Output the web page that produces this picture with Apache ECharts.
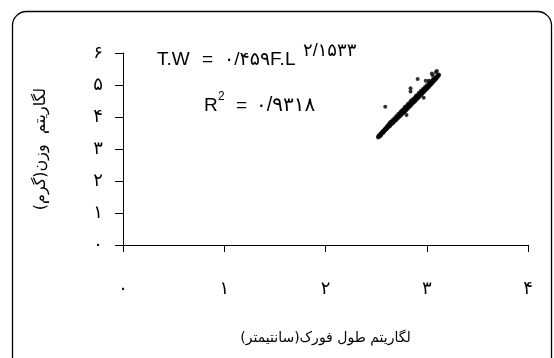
<!DOCTYPE html>
<html>
<head>
<meta charset="utf-8">
<script src="https://cdn.jsdelivr.net/npm/echarts@6/dist/echarts.min.js"></script>
<style>
  html, body { margin: 0; padding: 0; background: #ffffff; }
  #chart { width: 554px; height: 358px; }
</style>
</head>
<body>
<div id="chart"></div>
<script>
// Log fork length (cm) vs log weight (g)
const xTickLabels = ['۰', '۱', '۲', '۳', '۴'];
const yTickLabels = ['۰', '۱', '۲', '۳', '۴', '۵', '۶'];
const xAxisTitle = 'لگاریتم طول فورک(سانتیمتر)';
const yAxisTitle = 'لگاریتم  وزن(گرم)';

// Observations: [log fork length, log weight]
const logLength = [
  2.52, 2.52, 2.53, 2.53, 2.53, 2.54, 2.54, 2.54, 2.55, 2.55, 2.55, 2.56, 2.56,
  2.57, 2.57, 2.57, 2.58, 2.58, 2.59, 2.59, 2.59, 2.60, 2.60, 2.61, 2.61, 2.61,
  2.62, 2.62, 2.63, 2.63, 2.63, 2.64, 2.64, 2.64, 2.65, 2.65, 2.66, 2.66, 2.66,
  2.67, 2.67, 2.68, 2.68, 2.68, 2.69, 2.69, 2.70, 2.70, 2.70, 2.71, 2.71, 2.72,
  2.72, 2.72, 2.73, 2.73, 2.74, 2.74, 2.74, 2.75, 2.75, 2.75, 2.76, 2.76, 2.76,
  2.77, 2.77, 2.78, 2.78, 2.78, 2.79, 2.79, 2.79, 2.80, 2.80, 2.80, 2.81, 2.81,
  2.81, 2.82, 2.82, 2.82, 2.83, 2.83, 2.84, 2.84, 2.84, 2.85, 2.85, 2.85, 2.86,
  2.86, 2.87, 2.87, 2.87, 2.88, 2.88, 2.89, 2.89, 2.89, 2.90, 2.90, 2.90, 2.91,
  2.91, 2.92, 2.92, 2.92, 2.93, 2.93, 2.94, 2.94, 2.94, 2.95, 2.95, 2.96, 2.96,
  2.96, 2.97, 2.97, 2.98, 2.98, 2.98, 2.99, 2.99, 3.00, 3.00, 3.00, 3.01, 3.01,
  3.02, 3.02, 3.02, 3.03, 3.03, 3.04, 3.04, 3.04, 3.05, 3.05, 3.06, 3.06, 3.06,
  3.07, 3.07, 3.08, 3.08, 3.09, 3.09, 3.10, 3.10, 3.11, 3.11, 3.12, 3.12,
  2.59, 2.84, 2.84, 2.91, 2.99, 3.02, 3.05, 3.10, 2.97, 3.06, 3.09
];
const logWeight = [
  3.36, 3.40, 3.38, 3.43, 3.41, 3.42, 3.47, 3.40, 3.45, 3.50, 3.44, 3.49, 3.54,
  3.52, 3.57, 3.50, 3.55, 3.60, 3.58, 3.64, 3.62, 3.61, 3.67, 3.64, 3.70, 3.72,
  3.68, 3.74, 3.70, 3.77, 3.80, 3.73, 3.79, 3.84, 3.77, 3.83, 3.80, 3.86, 3.90,
  3.82, 3.89, 3.86, 3.92, 3.96, 3.89, 3.95, 3.91, 3.98, 4.03, 3.95, 4.02, 3.98,
  4.05, 4.10, 4.01, 4.08, 4.04, 4.11, 4.16, 4.07, 4.14, 4.19, 4.10, 4.17, 4.22,
  4.13, 4.21, 4.16, 4.24, 4.30, 4.19, 4.27, 4.33, 4.22, 4.30, 4.06, 4.26, 4.33,
  4.39, 4.29, 4.36, 4.42, 4.32, 4.40, 4.35, 4.43, 4.49, 4.38, 4.46, 4.52, 4.42,
  4.49, 4.45, 4.53, 4.58, 4.48, 4.56, 4.51, 4.59, 4.65, 4.55, 4.62, 4.68, 4.58,
  4.66, 4.61, 4.69, 4.75, 4.64, 4.72, 4.68, 4.75, 4.81, 4.71, 4.78, 4.74, 4.81,
  4.87, 4.77, 4.85, 4.81, 4.88, 4.93, 4.84, 4.91, 4.87, 4.94, 4.99, 4.91, 4.97,
  4.94, 5.01, 5.06, 4.98, 5.04, 5.01, 5.07, 5.12, 5.04, 5.10, 5.08, 5.13, 5.18,
  5.11, 5.17, 5.15, 5.20, 5.18, 5.23, 5.22, 5.27, 5.26, 5.30, 5.30, 5.33,
  4.32, 4.90, 4.80, 5.19, 5.13, 5.13, 5.36, 5.44, 4.60, 5.30, 5.40
];

const points = logLength.map((x, i) => [x, logWeight[i]]);

const persianFont = '"DejaVu Sans", "Noto Sans", sans-serif';
const latinFont = '"Liberation Sans", "DejaVu Sans", sans-serif';

const chart = echarts.init(document.getElementById('chart'), null, { renderer: 'canvas' });

chart.setOption({
  backgroundColor: '#ffffff',
  animation: false,
  grid: { left: 123, top: 53, right: 26, bottom: 113, containLabel: false },
  xAxis: {
    type: 'value',
    min: 0, max: 4, interval: 1,
    name: xAxisTitle,
    nameLocation: 'middle',
    nameGap: 86,
    nameTextStyle: { color: '#000', fontSize: 14, fontFamily: persianFont },
    axisLine: { show: true, onZero: false, lineStyle: { color: '#000', width: 1 } },
    axisTick: { show: true, inside: false, length: 7, lineStyle: { color: '#000' } },
    axisLabel: {
      color: '#000', fontSize: 18, fontFamily: persianFont, margin: 35,
      formatter: (v) => xTickLabels[Math.round(v)]
    },
    splitLine: { show: false }
  },
  yAxis: {
    type: 'value',
    min: 0, max: 6, interval: 1,
    name: yAxisTitle,
    nameLocation: 'middle',
    nameRotate: 90,
    nameGap: 74,
    nameTextStyle: { color: '#000', fontSize: 16, fontFamily: persianFont },
    axisLine: { show: true, onZero: false, lineStyle: { color: '#000', width: 1 } },
    axisTick: { show: true, inside: false, length: 8, lineStyle: { color: '#000' } },
    axisLabel: {
      color: '#000', fontSize: 18, fontFamily: persianFont, margin: 20,
      formatter: (v) => yTickLabels[Math.round(v)]
    },
    splitLine: { show: false }
  },
  series: [{
    type: 'scatter',
    data: points,
    symbol: 'circle',
    symbolSize: 4,
    itemStyle: { color: '#000' },
    silent: true
  }],
  graphic: [
    {
      type: 'rect',
      shape: { x: 12.5, y: 11.5, width: 539, height: 362, r: 14 },
      style: { fill: null, stroke: '#000', lineWidth: 1.3 },
      z: 100, silent: true
    },
    {
      type: 'text', left: 157, top: 50,
      style: { text: 'T.W', fill: '#000', font: '19px ' + latinFont }
    },
    {
      type: 'text', left: 202, top: 50,
      style: { text: '=', fill: '#000', font: '19px ' + latinFont }
    },
    {
      type: 'text', left: 224, top: 50,
      style: { text: '۰/۴۵۹F.L', fill: '#000', font: '19px ' + latinFont }
    },
    {
      type: 'text', left: 303, top: 42,
      style: { text: '۲/۱۵۳۳', fill: '#000', font: '18px ' + latinFont }
    },
    {
      type: 'text', left: 204, top: 96,
      style: { text: 'R', fill: '#000', font: '19px ' + latinFont }
    },
    {
      type: 'text', left: 218, top: 91,
      style: { text: '2', fill: '#000', font: '12px ' + latinFont }
    },
    {
      type: 'text', left: 236, top: 96,
      style: { text: '=', fill: '#000', font: '19px ' + latinFont }
    },
    {
      type: 'text', left: 256, top: 95,
      style: { text: '۰/۹۳۱۸', fill: '#000', font: '20px ' + latinFont }
    }
  ]
});
</script>
</body>
</html>
